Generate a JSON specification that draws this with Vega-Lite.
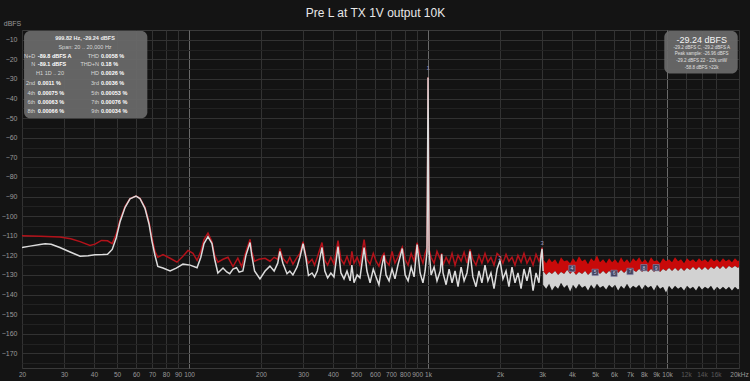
{
  "$schema": "https://vega.github.io/schema/vega-lite/v6.json",
  "width": 717,
  "height": 338,
  "autosize": {"type": "none"},
  "padding": {"left": 22, "top": 30, "right": 11, "bottom": 13},
  "background": "#141414",
  "title": {"text": "Pre L at TX 1V output 10K", "color": "#e8e8e8", "fontSize": 12, "font": "Liberation Sans", "fontWeight": "normal", "anchor": "middle", "offset": -1, "dx": -5},
  "config": {
    "view": {"stroke": "#3a3a3a", "fill": "#131313"},
    "axis": {"labelFont": "Liberation Sans", "titleFont": "Liberation Sans"}
  },
  "datasets": {
    "white": [
      {"f":20,"db":-116},{"f":21.6,"db":-115.3},{"f":23.8,"db":-114.5},{"f":25,"db":-114.1},{"f":26.5,"db":-114.4},{"f":28.8,"db":-116},{"f":31.8,"db":-118.3},{"f":35,"db":-120.5},{"f":37.8,"db":-120.2},{"f":40.4,"db":-119.7},{"f":43.5,"db":-119.6},{"f":45.6,"db":-119.4},{"f":47.7,"db":-117},{"f":49.6,"db":-111},{"f":51.4,"db":-103},{"f":54,"db":-95.5},{"f":56.6,"db":-91.2},{"f":60,"db":-89.8},{"f":62.3,"db":-91},{"f":65.4,"db":-96},{"f":68,"db":-104},{"f":70,"db":-113},{"f":72,"db":-120},{"f":74,"db":-125.7},{"f":77.8,"db":-126.5},{"f":83.3,"db":-128},{"f":88.4,"db":-126.5},{"f":94.3,"db":-124.5},{"f":101,"db":-125},{"f":108,"db":-126.3},{"f":112,"db":-121},{"f":115.5,"db":-114},{"f":120,"db":-110.5},{"f":124.7,"db":-114},{"f":128,"db":-122},{"f":132,"db":-129},{"f":138.7,"db":-126.5},{"f":143.8,"db":-128.5},{"f":148,"db":-129.4},{"f":152.7,"db":-127},{"f":158,"db":-126.3},{"f":162,"db":-128.6},{"f":168,"db":-128},{"f":173,"db":-120},{"f":180,"db":-113.5},{"f":183,"db":-120},{"f":188,"db":-128},{"f":198,"db":-132},{"f":208,"db":-128},{"f":218,"db":-125.5},{"f":227,"db":-128},{"f":235,"db":-124},{"f":240,"db":-118},{"f":247,"db":-124},{"f":257,"db":-129.4},{"f":264,"db":-128},{"f":272,"db":-130},{"f":283,"db":-126},{"f":291,"db":-121},{"f":300,"db":-114.1},{"f":308,"db":-121},{"f":316,"db":-130.3},{"f":327,"db":-129},{"f":335,"db":-131},{"f":344,"db":-128},{"f":360,"db":-116},{"f":370,"db":-128},{"f":380,"db":-131.5},{"f":392,"db":-129},{"f":404,"db":-131},{"f":420,"db":-115.5},{"f":432,"db":-129},{"f":445,"db":-132},{"f":458,"db":-128},{"f":472,"db":-133},{"f":480,"db":-125},{"f":490,"db":-134},{"f":505,"db":-130},{"f":519,"db":-131.5},{"f":540,"db":-116},{"f":555,"db":-128},{"f":572,"db":-134},{"f":590,"db":-127},{"f":606,"db":-131},{"f":623,"db":-135},{"f":640,"db":-126},{"f":654,"db":-120},{"f":667,"db":-130},{"f":687,"db":-133},{"f":707,"db":-127},{"f":727,"db":-132},{"f":748,"db":-125},{"f":780,"db":-116.5},{"f":802,"db":-130},{"f":825,"db":-133},{"f":850,"db":-126},{"f":874,"db":-131},{"f":900,"db":-114.5},{"f":926,"db":-129},{"f":952,"db":-134},{"f":972,"db":-128},{"f":990,"db":-118},{"f":996,"db":-70},{"f":1000,"db":-29.24},{"f":1004,"db":-70},{"f":1010,"db":-118},{"f":1030,"db":-130},{"f":1060,"db":-126},{"f":1090,"db":-133},{"f":1125,"db":-128},{"f":1140,"db":-119.5},{"f":1155,"db":-129},{"f":1190,"db":-135},{"f":1225,"db":-127},{"f":1260,"db":-134},{"f":1297,"db":-128},{"f":1335,"db":-136},{"f":1375,"db":-126},{"f":1415,"db":-133},{"f":1455,"db":-129},{"f":1498,"db":-118},{"f":1540,"db":-131},{"f":1587,"db":-136},{"f":1633,"db":-128},{"f":1680,"db":-134},{"f":1731,"db":-125},{"f":1780,"db":-133},{"f":1833,"db":-129},{"f":1888,"db":-137},{"f":1945,"db":-127},{"f":2000,"db":-122.6},{"f":2058,"db":-132},{"f":2120,"db":-128},{"f":2180,"db":-136},{"f":2245,"db":-126},{"f":2311,"db":-134},{"f":2378,"db":-129},{"f":2450,"db":-137},{"f":2520,"db":-127},{"f":2593,"db":-133},{"f":2670,"db":-126},{"f":2750,"db":-138},{"f":2830,"db":-129},{"f":2912,"db":-134},{"f":2970,"db":-120},{"f":3000,"db":-116.7},{"f":3030,"db":-128}
    ],
    "red": [
      {"f":20,"db":-110},{"f":23.8,"db":-110.2},{"f":28.8,"db":-110.7},{"f":32,"db":-111.5},{"f":35,"db":-113},{"f":38.5,"db":-115},{"f":40.4,"db":-114.3},{"f":43,"db":-112.4},{"f":45.6,"db":-112.6},{"f":47.7,"db":-114},{"f":49.6,"db":-109},{"f":51.4,"db":-102},{"f":54,"db":-95},{"f":56.6,"db":-91},{"f":60,"db":-89.8},{"f":62.3,"db":-90.8},{"f":65.4,"db":-95.5},{"f":68,"db":-103},{"f":70,"db":-111},{"f":72,"db":-118},{"f":74,"db":-121},{"f":77.8,"db":-119.6},{"f":83.3,"db":-121.5},{"f":89,"db":-123.5},{"f":94.3,"db":-120.5},{"f":99,"db":-117.5},{"f":103.9,"db":-119},{"f":108,"db":-122.6},{"f":112,"db":-118},{"f":115.5,"db":-112},{"f":120,"db":-108.7},{"f":124.7,"db":-113},{"f":128,"db":-120},{"f":132,"db":-123.5},{"f":138.7,"db":-122},{"f":145.5,"db":-121},{"f":152.7,"db":-125.7},{"f":160,"db":-121.4},{"f":166,"db":-125.7},{"f":173,"db":-118},{"f":180,"db":-111.8},{"f":183,"db":-118},{"f":188,"db":-123},{"f":196,"db":-122},{"f":208,"db":-121.5},{"f":218,"db":-123},{"f":227,"db":-121},{"f":235,"db":-122},{"f":240,"db":-116.5},{"f":247,"db":-121.5},{"f":257,"db":-124},{"f":264,"db":-121},{"f":272,"db":-124.5},{"f":283,"db":-121},{"f":291,"db":-119},{"f":300,"db":-113},{"f":308,"db":-120},{"f":316,"db":-124},{"f":327,"db":-122},{"f":335,"db":-125},{"f":344,"db":-121},{"f":360,"db":-113.5},{"f":370,"db":-122.6},{"f":380,"db":-125},{"f":392,"db":-121},{"f":404,"db":-124.5},{"f":420,"db":-112.5},{"f":432,"db":-122},{"f":445,"db":-124.5},{"f":458,"db":-120.5},{"f":472,"db":-125},{"f":480,"db":-118},{"f":490,"db":-124},{"f":505,"db":-121},{"f":519,"db":-125},{"f":540,"db":-112},{"f":555,"db":-122},{"f":572,"db":-124.5},{"f":590,"db":-119},{"f":606,"db":-123},{"f":623,"db":-125.5},{"f":640,"db":-121},{"f":654,"db":-119},{"f":667,"db":-123},{"f":687,"db":-125},{"f":707,"db":-118},{"f":727,"db":-124},{"f":748,"db":-121},{"f":780,"db":-115.8},{"f":802,"db":-122},{"f":825,"db":-125},{"f":850,"db":-119},{"f":874,"db":-123},{"f":900,"db":-113.6},{"f":926,"db":-120},{"f":952,"db":-124},{"f":972,"db":-119},{"f":990,"db":-116},{"f":996,"db":-70},{"f":1000,"db":-29.3},{"f":1004,"db":-70},{"f":1010,"db":-117},{"f":1030,"db":-121},{"f":1060,"db":-124},{"f":1090,"db":-118},{"f":1125,"db":-122},{"f":1140,"db":-119},{"f":1155,"db":-125},{"f":1190,"db":-121},{"f":1225,"db":-124},{"f":1260,"db":-119},{"f":1297,"db":-125},{"f":1335,"db":-120},{"f":1375,"db":-123},{"f":1415,"db":-118.5},{"f":1455,"db":-124},{"f":1498,"db":-117},{"f":1540,"db":-122},{"f":1587,"db":-125},{"f":1633,"db":-120},{"f":1680,"db":-124},{"f":1731,"db":-119},{"f":1780,"db":-123.5},{"f":1833,"db":-121},{"f":1888,"db":-125},{"f":1945,"db":-119},{"f":2000,"db":-120.5},{"f":2058,"db":-124},{"f":2120,"db":-119.5},{"f":2180,"db":-123},{"f":2245,"db":-121},{"f":2311,"db":-125},{"f":2378,"db":-120},{"f":2450,"db":-123.5},{"f":2520,"db":-119},{"f":2593,"db":-124},{"f":2670,"db":-121},{"f":2750,"db":-125},{"f":2830,"db":-119.5},{"f":2912,"db":-123},{"f":2970,"db":-120},{"f":3000,"db":-116},{"f":3030,"db":-122}
    ],
    "hf": [
      {"f":3030,"db":-122,"db2":-128,"db3":-135},{"f":3120,"db":-124,"db2":-130,"db3":-137},{"f":3210,"db":-121.5,"db2":-128.5,"db3":-134.5},{"f":3300,"db":-123.5,"db2":-129.5,"db3":-138},{"f":3400,"db":-122,"db2":-128,"db3":-135.5},{"f":3500,"db":-124.5,"db2":-130,"db3":-137},{"f":3600,"db":-121,"db2":-128.5,"db3":-134},{"f":3710,"db":-123,"db2":-129.5,"db3":-136.5},{"f":3820,"db":-122.5,"db2":-127.5,"db3":-135},{"f":3930,"db":-124,"db2":-129.5,"db3":-138.5},{"f":4040,"db":-121.5,"db2":-128,"db3":-135},{"f":4160,"db":-123.5,"db2":-130,"db3":-137},{"f":4280,"db":-120.5,"db2":-128.5,"db3":-134.5},{"f":4410,"db":-123,"db2":-129.5,"db3":-136.5},{"f":4540,"db":-122,"db2":-128,"db3":-135.5},{"f":4670,"db":-124.5,"db2":-130,"db3":-138},{"f":4810,"db":-121.5,"db2":-128.5,"db3":-135},{"f":4950,"db":-123,"db2":-129.5,"db3":-137},{"f":5090,"db":-120,"db2":-128,"db3":-134.5},{"f":5240,"db":-123.5,"db2":-129.5,"db3":-136.5},{"f":5400,"db":-122,"db2":-128,"db3":-135.5},{"f":5560,"db":-124,"db2":-129.5,"db3":-137.5},{"f":5720,"db":-121.5,"db2":-128,"db3":-135},{"f":5890,"db":-123.5,"db2":-129.5,"db3":-136.5},{"f":6060,"db":-122,"db2":-127.5,"db3":-135},{"f":6240,"db":-124,"db2":-129,"db3":-138},{"f":6420,"db":-121,"db2":-127.5,"db3":-135.5},{"f":6610,"db":-123.5,"db2":-129,"db3":-137},{"f":6800,"db":-122,"db2":-127.5,"db3":-134.5},{"f":7000,"db":-124,"db2":-129,"db3":-137},{"f":7210,"db":-121.5,"db2":-127.5,"db3":-135.5},{"f":7420,"db":-123,"db2":-128.5,"db3":-136.5},{"f":7640,"db":-121,"db2":-127,"db3":-135},{"f":7860,"db":-123.5,"db2":-128.5,"db3":-137.5},{"f":8090,"db":-122,"db2":-127,"db3":-135},{"f":8330,"db":-124,"db2":-128.5,"db3":-136.5},{"f":8570,"db":-121,"db2":-127,"db3":-135.5},{"f":8820,"db":-123,"db2":-128.5,"db3":-138},{"f":9080,"db":-122.5,"db2":-127,"db3":-135},{"f":9350,"db":-124,"db2":-128.5,"db3":-137},{"f":9620,"db":-121.5,"db2":-127,"db3":-136},{"f":9900,"db":-123,"db2":-128,"db3":-139},{"f":10190,"db":-122,"db2":-126.5,"db3":-135.5},{"f":10490,"db":-123.5,"db2":-128,"db3":-137.5},{"f":10800,"db":-121,"db2":-126.5,"db3":-135.5},{"f":11120,"db":-123,"db2":-128,"db3":-137},{"f":11440,"db":-122,"db2":-126.5,"db3":-136},{"f":11780,"db":-124,"db2":-128,"db3":-138},{"f":12120,"db":-121.5,"db2":-126.5,"db3":-135.5},{"f":12480,"db":-123,"db2":-127.5,"db3":-137},{"f":12840,"db":-122,"db2":-126,"db3":-136},{"f":13220,"db":-123.5,"db2":-127.5,"db3":-138},{"f":13600,"db":-121.5,"db2":-126,"db3":-135.5},{"f":14000,"db":-123,"db2":-127.5,"db3":-137.5},{"f":14410,"db":-122,"db2":-126,"db3":-136},{"f":14840,"db":-123.5,"db2":-127.5,"db3":-137},{"f":15270,"db":-121.5,"db2":-126,"db3":-135.5},{"f":15720,"db":-123,"db2":-127,"db3":-138},{"f":16180,"db":-122,"db2":-125.5,"db3":-136},{"f":16650,"db":-123.5,"db2":-127,"db3":-137.5},{"f":17140,"db":-121.5,"db2":-125.5,"db3":-136},{"f":17640,"db":-123,"db2":-127,"db3":-137.5},{"f":18160,"db":-122,"db2":-125.5,"db3":-136},{"f":18690,"db":-123.5,"db2":-126.5,"db3":-138},{"f":19240,"db":-121.5,"db2":-125.5,"db3":-136},{"f":19800,"db":-123,"db2":-126.5,"db3":-137.5},{"f":20000,"db":-122.5,"db2":-126,"db3":-137}
    ],
    "boxes": [
      {"f":20.4,"f2":66.9,"db":-5.5,"db2":-50.1},
      {"f":9738,"f2":19752,"db":-5.5,"db2":-27.2}
    ],
    "hm": [
      {"f":4000,"db":-126.7,"t":"4"},{"f":5000,"db":-128.7,"t":"5"},{"f":6000,"db":-129.2,"t":"6"},{"f":7000,"db":-128.2,"t":"7"},{"f":8000,"db":-126.3,"t":"8"},{"f":9000,"db":-126.3,"t":"9"}
    ],
    "txt": [
      {"f":36.7,"db":-9.2,"t":"999.82 Hz, -29.24 dBFS","k":"cb"},
      {"f":36.7,"db":-13.9,"t":"Span: 20 .. 20,000 Hz","k":"c"},
      {"f":22.7,"db":-18.2,"t":"N+D","k":"l"},{"f":23.3,"db":-18.2,"t":"-89.8 dBFS A","k":"v"},{"f":42,"db":-18.2,"t":"THD","k":"l"},{"f":42.8,"db":-18.2,"t":"0.0058 %","k":"v"},
      {"f":22.7,"db":-22.4,"t":"N","k":"l"},{"f":23.3,"db":-22.4,"t":"-89.1 dBFS","k":"v"},{"f":42,"db":-22.4,"t":"THD+N","k":"l"},{"f":42.8,"db":-22.4,"t":"0.18 %","k":"v"},
      {"f":26.2,"db":-26.7,"t":"H1 1D .. 20","k":"c"},{"f":42,"db":-26.7,"t":"HD","k":"l"},{"f":42.8,"db":-26.7,"t":"0.0026 %","k":"v"},
      {"f":22.7,"db":-32.3,"t":"2nd","k":"l"},{"f":23.3,"db":-32.3,"t":"0.0011 %","k":"v"},{"f":42,"db":-32.3,"t":"3rd","k":"l"},{"f":42.8,"db":-32.3,"t":"0.0036 %","k":"v"},
      {"f":22.7,"db":-37.4,"t":"4th","k":"l"},{"f":23.3,"db":-37.4,"t":"0.00075 %","k":"v"},{"f":42,"db":-37.4,"t":"5th","k":"l"},{"f":42.8,"db":-37.4,"t":"0.00053 %","k":"v"},
      {"f":22.7,"db":-41.7,"t":"6th","k":"l"},{"f":23.3,"db":-41.7,"t":"0.00063 %","k":"v"},{"f":42,"db":-41.7,"t":"7th","k":"l"},{"f":42.8,"db":-41.7,"t":"0.00076 %","k":"v"},
      {"f":22.7,"db":-46.5,"t":"8th","k":"l"},{"f":23.3,"db":-46.5,"t":"0.00066 %","k":"v"},{"f":42,"db":-46.5,"t":"9th","k":"l"},{"f":42.8,"db":-46.5,"t":"0.00034 %","k":"v"},
      {"f":13960,"db":-10.2,"t":"-29.24 dBFS","k":"big"},
      {"f":13960,"db":-14.2,"t":"-29.2 dBFS C, -29.2 dBFS A","k":"s"},
      {"f":13960,"db":-17.3,"t":"Peak sample: -26.96 dBFS","k":"s"},
      {"f":13960,"db":-20.9,"t":"-29.2 dBFS 22 - 22k unW","k":"s"},
      {"f":13960,"db":-24.3,"t":"-58.8 dBFS >22k","k":"s"},
      {"f":1000,"db":-24.5,"t":"1","k":"h"},
      {"f":2000,"db":-121.5,"t":"2","k":"h"},
      {"f":3000,"db":-113.5,"t":"3","k":"h"}
    ]
  },
  "encoding": {
    "x": {
      "field": "f", "type": "quantitative",
      "scale": {"type": "log", "domain": [20, 20000], "nice": false},
      "axis": {
        "title": null, "domain": false, "ticks": false,
        "values": [20,30,40,50,60,70,80,90,100,200,300,400,500,600,700,800,900,1000,2000,3000,4000,5000,6000,7000,8000,9000,10000,12000,14000,16000,20000],
        "labelExpr": "datum.value == 20000 ? '20kHz' : (datum.value >= 1000 ? (datum.value / 1000) + 'k' : datum.label)",
        "labelFontSize": 6.5, "labelPadding": 3, "labelOverlap": false, "labelFlush": false,
        "labelColor": {"condition": {"test": "datum.value == 12000 || datum.value == 14000 || datum.value == 16000", "value": "#5a5a5a"}, "value": "#9a9a9a"},
        "gridColor": {"condition": {"test": "datum.value == 100 || datum.value == 1000 || datum.value == 10000", "value": "#6a6a6a"}, "value": "#323232"},
        "gridWidth": 1
      }
    },
    "y": {
      "field": "db", "type": "quantitative",
      "scale": {"domain": [-177.5, -5], "nice": false, "zero": false},
      "axis": {
        "title": "dBFS", "titleAngle": 0, "titleX": -10, "titleY": -7, "titleAlign": "center", "titleBaseline": "middle",
        "titleFontSize": 7, "titleColor": "#9a9a9a", "titleFontWeight": "normal",
        "domain": false, "ticks": false,
        "values": [-10,-15,-20,-25,-30,-35,-40,-45,-50,-55,-60,-65,-70,-75,-80,-85,-90,-95,-100,-105,-110,-115,-120,-125,-130,-135,-140,-145,-150,-155,-160,-165,-170,-175],
        "labelExpr": "datum.value % 10 == 0 ? datum.label : ''",
        "labelFontSize": 7, "labelPadding": 5, "labelColor": "#9a9a9a",
        "gridColor": {"condition": {"test": "datum.value % 10 != 0", "value": "#222222"}, "value": "#323232"}
      }
    }
  },
  "layer": [
    {"data": {"name": "red"}, "mark": {"type": "line", "color": "#b3121a", "strokeWidth": 1.5, "clip": true}},
    {"data": {"name": "hf"}, "mark": {"type": "area", "color": "#c80a0a", "opacity": 1, "clip": true}, "encoding": {"y2": {"field": "db2"}}},
    {"data": {"name": "hf"}, "mark": {"type": "area", "color": "#d2d2d2", "opacity": 1, "clip": true}, "encoding": {"y": {"field": "db2", "type": "quantitative"}, "y2": {"field": "db3"}}},
    {"data": {"name": "white"}, "mark": {"type": "line", "color": "#dcdcdc", "strokeWidth": 1.5, "clip": true}},
    {"data": {"name": "hm"}, "mark": {"type": "point", "shape": "square", "size": 40, "filled": true, "color": "#44445e", "stroke": "#8a8ab0", "strokeWidth": 0.6, "opacity": 1}},
    {"data": {"name": "hm"}, "mark": {"type": "text", "fontSize": 5, "color": "#c8c8e0", "font": "Liberation Sans", "baseline": "middle"}, "encoding": {"text": {"field": "t"}}},
    {"data": {"name": "boxes"}, "mark": {"type": "rect", "fill": "#6a6a6a", "opacity": 0.93, "cornerRadius": 6}, "encoding": {"x2": {"field": "f2"}, "y2": {"field": "db2"}}},
    {"data": {"name": "txt"}, "transform": [{"filter": "datum.k == 'cb'"}], "mark": {"type": "text", "fontSize": 5.5, "fontWeight": "bold", "color": "#f0f0f0", "align": "center", "baseline": "middle", "font": "Liberation Sans"}, "encoding": {"text": {"field": "t"}}},
    {"data": {"name": "txt"}, "transform": [{"filter": "datum.k == 'c'"}], "mark": {"type": "text", "fontSize": 5.5, "color": "#d8d8d8", "align": "center", "baseline": "middle", "font": "Liberation Sans"}, "encoding": {"text": {"field": "t"}}},
    {"data": {"name": "txt"}, "transform": [{"filter": "datum.k == 'l'"}], "mark": {"type": "text", "fontSize": 5.5, "color": "#d8d8d8", "align": "right", "baseline": "middle", "font": "Liberation Sans"}, "encoding": {"text": {"field": "t"}}},
    {"data": {"name": "txt"}, "transform": [{"filter": "datum.k == 'v'"}], "mark": {"type": "text", "fontSize": 5.5, "fontWeight": "bold", "color": "#ffffff", "align": "left", "baseline": "middle", "font": "Liberation Sans"}, "encoding": {"text": {"field": "t"}}},
    {"data": {"name": "txt"}, "transform": [{"filter": "datum.k == 'big'"}], "mark": {"type": "text", "fontSize": 9, "color": "#f4f4f4", "align": "center", "baseline": "middle", "font": "Liberation Sans"}, "encoding": {"text": {"field": "t"}}},
    {"data": {"name": "txt"}, "transform": [{"filter": "datum.k == 's'"}], "mark": {"type": "text", "fontSize": 4.5, "color": "#e0e0e0", "align": "center", "baseline": "middle", "font": "Liberation Sans"}, "encoding": {"text": {"field": "t"}}},
    {"data": {"name": "txt"}, "transform": [{"filter": "datum.k == 'h'"}], "mark": {"type": "text", "fontSize": 6, "color": "#9a9ac0", "align": "center", "baseline": "middle", "font": "Liberation Sans"}, "encoding": {"text": {"field": "t"}}}
  ]
}
